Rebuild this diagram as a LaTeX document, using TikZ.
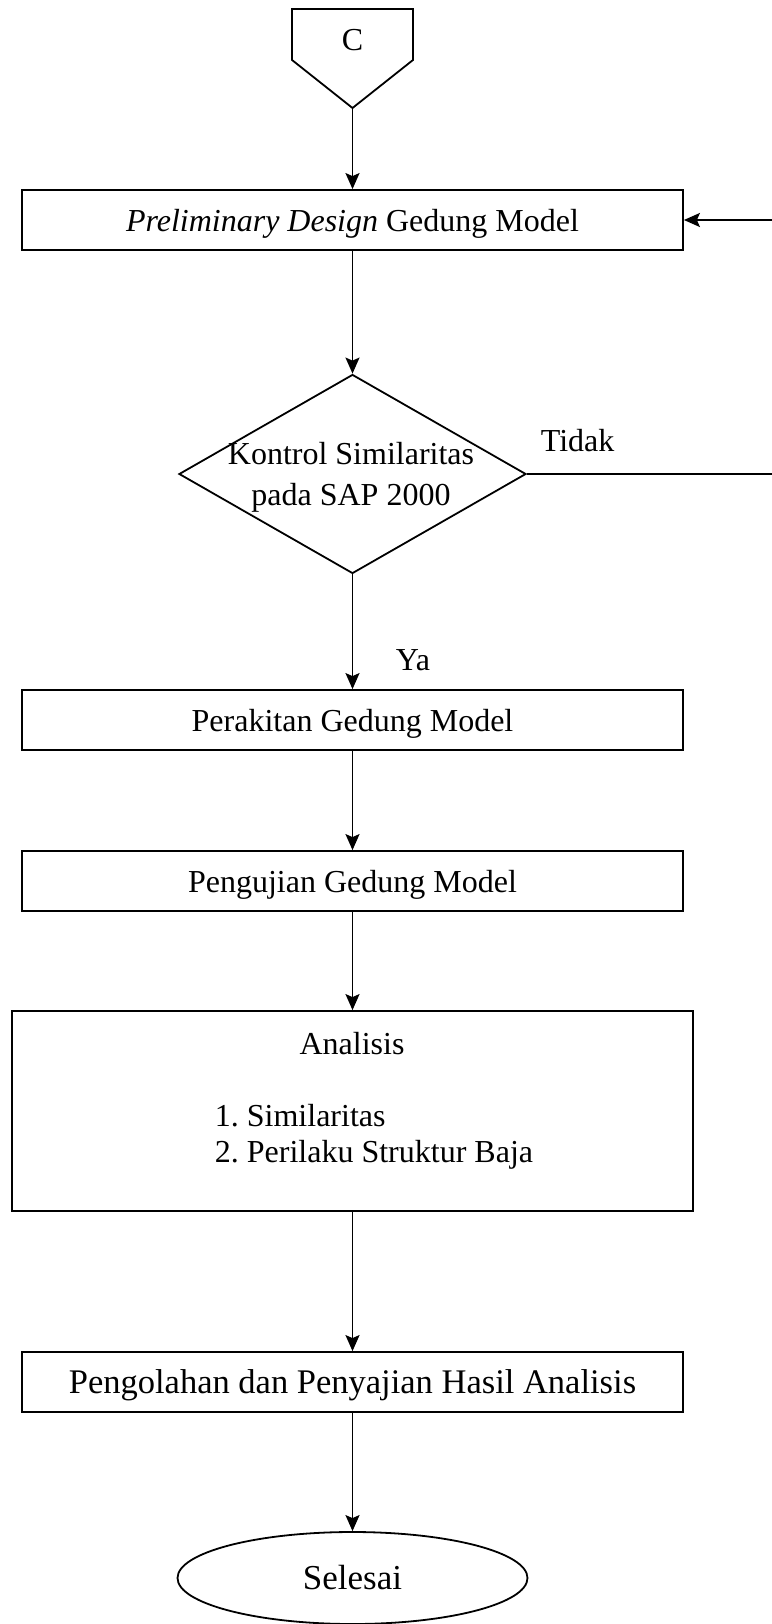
\documentclass[tikz,border=0pt]{standalone}
\usepackage{fontspec}
\setmainfont{Liberation Serif}
\usetikzlibrary{shapes.geometric,arrows.meta,positioning}
\tikzset{
  every picture/.style={line width=1.8pt},
  stxt/.style={font=\fontsize{32}{41}\selectfont\frenchspacing},
  sbox/.style={draw, rectangle, minimum width=661pt, minimum height=60pt,
               inner sep=0pt, text height=22pt, text depth=0pt},
  sbigbox/.style={sbox, minimum width=681pt, minimum height=200pt},
  sdec/.style={draw, diamond, minimum width=347pt, minimum height=199pt, inner sep=0pt},
  send/.style={draw, ellipse, minimum width=350pt, minimum height=92pt,
               inner sep=0pt, text height=23pt, text depth=0pt,
               font=\fontsize{35}{41}\selectfont},
  slabel/.style={inner sep=0pt, anchor=base west},
  sflow/.style={-{Stealth[length=16pt, width=14pt, inset=3pt]}},
}

\begin{document}
\begin{tikzpicture}[x=1pt, y=-1pt, every node/.append style={stxt}]
\useasboundingbox (0,0) rectangle (771,1624);
% off-page connector C
\draw (292,9) -- (413,9) -- (413,60) -- (352.5,108) -- (292,60) -- cycle;
\node[inner sep=0pt, anchor=base] (conC) at (352.5,51) {C};
\coordinate (conCtip) at (352.5,108);
% flow
\node[sbox] (prelim) at (352.5,220) {\textit{Preliminary Design} Gedung Model};
\node[sdec] (kontrol) at (352.5,474) {};
\node[align=center, inner sep=0pt] (kontroltxt) at (351,477)
  {Kontrol Similaritas\\pada SAP 2000};
\node[sbox] (rakit) at (352.5,720) {Perakitan Gedung Model};
\node[sbox] (uji) at (352.5,881) {Pengujian Gedung Model};
\node[sbigbox] (analisis) at (352.5,1111) {};
\node[inner sep=0pt, anchor=base] (analisistxt) at (352,1054) {Analisis};
\node[slabel, align=left, font=\fontsize{32}{36}\selectfont\frenchspacing]
  (analisislist) at (214,1162) {1. Similaritas\\2. Perilaku Struktur Baja};
\node[sbox, font=\fontsize{34.5}{41}\selectfont] (olah) at (352.5,1382)
  {Pengolahan dan Penyajian Hasil Analisis};
\node[send] (selesai) at (352.5,1578) {Selesai};
% connectors
\draw[sflow] (conCtip) -- (prelim.north);
\draw[sflow] (prelim.south) -- (kontrol.north);
\draw[sflow] (kontrol.south) -- (rakit.north);
\draw[sflow] (rakit.south) -- (uji.north);
\draw[sflow] (uji.south) -- (analisis.north);
\draw[sflow] (analisis.south) -- (olah.north);
\draw[sflow] (olah.south) -- (selesai.north);
% loop back (its vertical part lies past the right edge)
\coordinate (backR) at (776,474);
\coordinate (backT) at (776,220);
\draw[sflow] (kontrol.east) -- (backR) -- (backT) -- (prelim.east);
\node[slabel] (tidak) at (540,451) {Tidak};
\node[slabel] (ya) at (395,670) {Ya};
\end{tikzpicture}
\end{document}
